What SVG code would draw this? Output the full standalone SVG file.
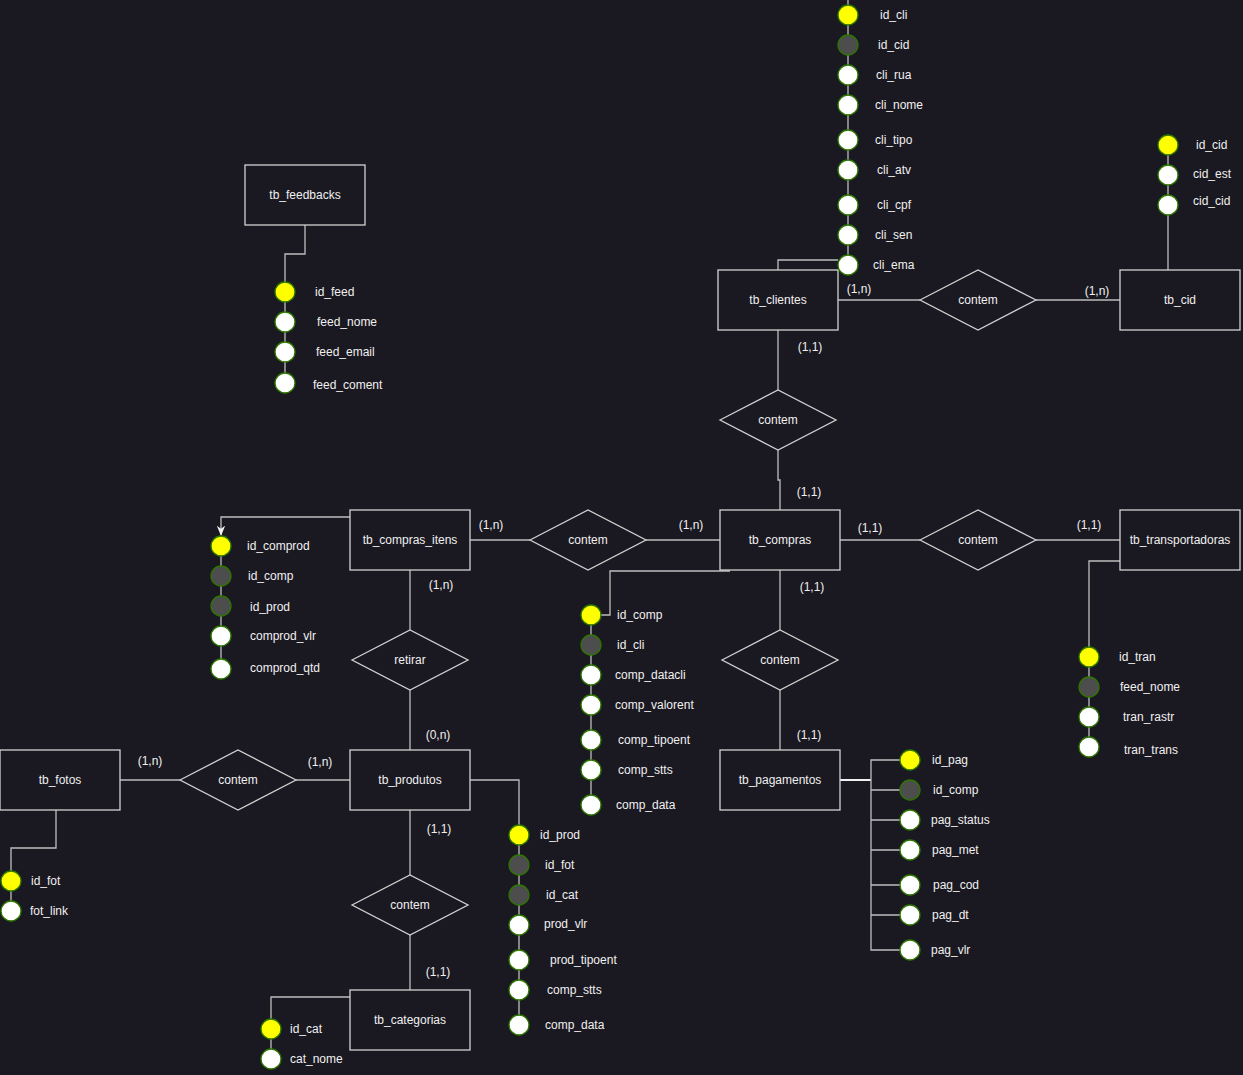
<svg xmlns="http://www.w3.org/2000/svg" width="1243" height="1075" viewBox="0 0 1243 1075">
  <defs>
    <style>
      text { font-family: "Liberation Sans", Arial, sans-serif; font-size: 12px; fill: #f0f0f0; }
      .ent rect { fill: #1a1820; stroke: #d2d2d2; stroke-width: 1.3; }
      .rel polygon { fill: #1a1820; stroke: #d2d2d2; stroke-width: 1.3; }
      .c { text-anchor: middle; dominant-baseline: central; }
      .a { dominant-baseline: central; }
      .ln { fill: none; stroke: #bdbdbd; stroke-width: 1.3; }
      .pk { fill: #ffff00; stroke: #2d7600; stroke-width: 1.3; }
      .fk { fill: #4d4d4d; stroke: #2d7600; stroke-width: 1.3; }
      .at { fill: #ffffff; stroke: #2d7600; stroke-width: 1.3; }
    </style>
    <marker id="arr" viewBox="0 0 10 10" refX="9" refY="5" markerWidth="8" markerHeight="8" orient="auto">
      <path d="M0,1 L10,5 L0,9 L3,5 Z" fill="#f0f0f0"/>
    </marker>
  </defs>

  <rect width="1243" height="1075" fill="#1a1820"/>

  <!-- connectors -->
  <g id="connectors" class="ln">
    <!-- relationships -->
    <path d="M838,300 H920"/>
    <path d="M1036,300 H1120"/>
    <path d="M778,330 V390"/>
    <path d="M778,450 V480 H780 V510"/>
    <path d="M470,540 H530"/>
    <path d="M646,540 H720"/>
    <path d="M840,540 H920"/>
    <path d="M1036,540 H1120"/>
    <path d="M410,570 V630"/>
    <path d="M410,690 V750"/>
    <path d="M780,570 V630"/>
    <path d="M780,690 V750"/>
    <path d="M120,780 H180"/>
    <path d="M296,780 H350"/>
    <path d="M410,810 V875"/>
    <path d="M410,935 V990"/>

    <!-- attribute chains -->
    <path d="M848,0 V265"/>
    <path d="M778,270 V260 H838"/>
    <path d="M1168,145 V270"/>
    <path d="M305,225 V254 H285 V385"/>
    <path d="M350,517 H221 V535" marker-end="url(#arr)"/>
    <path d="M221,546 V669"/>
    <path d="M730,571 H610 V615 H601"/>
    <path d="M591,615 V805"/>
    <path d="M1120,561 H1089 V747"/>
    <path d="M56,810 V848 H11 V911"/>
    <path d="M470,780 H519 V1025"/>
    <path d="M271,1029 V997 H350"/>
    <path d="M271,1029 V1059"/>
    <path d="M840,780 H871" style="stroke:#f0f0f0;stroke-width:2"/>
    <path d="M900,760 H871 V950 H900"/>
    <path d="M871,790 H900 M871,820 H900 M871,850 H900 M871,885 H900 M871,915 H900"/>
  </g>

  <!-- entities -->
  <g id="tb_feedbacks" class="ent"><rect x="245" y="165" width="120" height="60"/><text class="c" x="305" y="195">tb_feedbacks</text></g>
  <g id="tb_clientes" class="ent"><rect x="718" y="270" width="120" height="60"/><text class="c" x="778" y="300">tb_clientes</text></g>
  <g id="tb_cid" class="ent"><rect x="1120" y="270" width="120" height="60"/><text class="c" x="1180" y="300">tb_cid</text></g>
  <g id="tb_compras_itens" class="ent"><rect x="350" y="510" width="120" height="60"/><text class="c" x="410" y="540">tb_compras_itens</text></g>
  <g id="tb_compras" class="ent"><rect x="720" y="510" width="120" height="60"/><text class="c" x="780" y="540">tb_compras</text></g>
  <g id="tb_transportadoras" class="ent"><rect x="1120" y="510" width="120" height="60"/><text class="c" x="1180" y="540">tb_transportadoras</text></g>
  <g id="tb_fotos" class="ent"><rect x="0" y="750" width="120" height="60"/><text class="c" x="60" y="780">tb_fotos</text></g>
  <g id="tb_produtos" class="ent"><rect x="350" y="750" width="120" height="60"/><text class="c" x="410" y="780">tb_produtos</text></g>
  <g id="tb_pagamentos" class="ent"><rect x="720" y="750" width="120" height="60"/><text class="c" x="780" y="780">tb_pagamentos</text></g>
  <g id="tb_categorias" class="ent"><rect x="350" y="990" width="120" height="60"/><text class="c" x="410" y="1020">tb_categorias</text></g>

  <!-- relationships -->
  <g id="rel_clientes_cid" class="rel"><polygon points="920,300 978,270 1036,300 978,330"/><text class="c" x="978" y="300">contem</text></g>
  <g id="rel_clientes_compras" class="rel"><polygon points="720,420 778,390 836,420 778,450"/><text class="c" x="778" y="420">contem</text></g>
  <g id="rel_itens_compras" class="rel"><polygon points="530,540 588,510 646,540 588,570"/><text class="c" x="588" y="540">contem</text></g>
  <g id="rel_compras_transp" class="rel"><polygon points="920,540 978,510 1036,540 978,570"/><text class="c" x="978" y="540">contem</text></g>
  <g id="rel_compras_pag" class="rel"><polygon points="722,660 780,630 838,660 780,690"/><text class="c" x="780" y="660">contem</text></g>
  <g id="rel_retirar" class="rel"><polygon points="352,660 410,630 468,660 410,690"/><text class="c" x="410" y="660">retirar</text></g>
  <g id="rel_fotos_produtos" class="rel"><polygon points="180,780 238,750 296,780 238,810"/><text class="c" x="238" y="780">contem</text></g>
  <g id="rel_produtos_categorias" class="rel"><polygon points="352,905 410,875 468,905 410,935"/><text class="c" x="410" y="905">contem</text></g>

  <!-- cardinalities -->
  <g id="cardinalities">
    <text class="c" x="859" y="289">(1,n)</text>
    <text class="c" x="1097" y="291">(1,n)</text>
    <text class="c" x="810" y="347">(1,1)</text>
    <text class="c" x="809" y="492">(1,1)</text>
    <text class="c" x="491" y="525">(1,n)</text>
    <text class="c" x="691" y="525">(1,n)</text>
    <text class="c" x="870" y="528">(1,1)</text>
    <text class="c" x="1089" y="525">(1,1)</text>
    <text class="c" x="441" y="585">(1,n)</text>
    <text class="c" x="812" y="587">(1,1)</text>
    <text class="c" x="438" y="735">(0,n)</text>
    <text class="c" x="809" y="735">(1,1)</text>
    <text class="c" x="150" y="761">(1,n)</text>
    <text class="c" x="320" y="762">(1,n)</text>
    <text class="c" x="439" y="829">(1,1)</text>
    <text class="c" x="438" y="972">(1,1)</text>
  </g>

  <!-- attributes of tb_clientes -->
  <g id="attr_clientes">
    <circle class="pk" cx="848" cy="15" r="10"/><text class="a" x="880" y="15">id_cli</text>
    <circle class="fk" cx="848" cy="45" r="10"/><text class="a" x="878" y="45">id_cid</text>
    <circle class="at" cx="848" cy="75" r="10"/><text class="a" x="876" y="75">cli_rua</text>
    <circle class="at" cx="848" cy="105" r="10"/><text class="a" x="875" y="105">cli_nome</text>
    <circle class="at" cx="848" cy="140" r="10"/><text class="a" x="875" y="140">cli_tipo</text>
    <circle class="at" cx="848" cy="170" r="10"/><text class="a" x="877" y="170">cli_atv</text>
    <circle class="at" cx="848" cy="205" r="10"/><text class="a" x="877" y="205">cli_cpf</text>
    <circle class="at" cx="848" cy="235" r="10"/><text class="a" x="875" y="235">cli_sen</text>
    <circle class="at" cx="848" cy="265" r="10"/><text class="a" x="873" y="265">cli_ema</text>
  </g>

  <!-- attributes of tb_cid -->
  <g id="attr_cid">
    <circle class="pk" cx="1168" cy="145" r="10"/><text class="a" x="1196" y="145">id_cid</text>
    <circle class="at" cx="1168" cy="175" r="10"/><text class="a" x="1193" y="174">cid_est</text>
    <circle class="at" cx="1168" cy="205" r="10"/><text class="a" x="1193" y="201">cid_cid</text>
  </g>

  <!-- attributes of tb_feedbacks -->
  <g id="attr_feedbacks">
    <circle class="pk" cx="285" cy="292" r="10"/><text class="a" x="315" y="292">id_feed</text>
    <circle class="at" cx="285" cy="322" r="10"/><text class="a" x="317" y="322">feed_nome</text>
    <circle class="at" cx="285" cy="352" r="10"/><text class="a" x="316" y="352">feed_email</text>
    <circle class="at" cx="285" cy="383" r="10"/><text class="a" x="313" y="385">feed_coment</text>
  </g>

  <!-- attributes of tb_compras_itens -->
  <g id="attr_compras_itens">
    <circle class="pk" cx="221" cy="546" r="10"/><text class="a" x="247" y="546">id_comprod</text>
    <circle class="fk" cx="221" cy="576" r="10"/><text class="a" x="248" y="576">id_comp</text>
    <circle class="fk" cx="221" cy="606" r="10"/><text class="a" x="250" y="607">id_prod</text>
    <circle class="at" cx="221" cy="636" r="10"/><text class="a" x="250" y="636">comprod_vlr</text>
    <circle class="at" cx="221" cy="669" r="10"/><text class="a" x="250" y="668">comprod_qtd</text>
  </g>

  <!-- attributes of tb_compras -->
  <g id="attr_compras">
    <circle class="pk" cx="591" cy="615" r="10"/><text class="a" x="617" y="615">id_comp</text>
    <circle class="fk" cx="591" cy="645" r="10"/><text class="a" x="617" y="645">id_cli</text>
    <circle class="at" cx="591" cy="675" r="10"/><text class="a" x="615" y="675">comp_datacli</text>
    <circle class="at" cx="591" cy="705" r="10"/><text class="a" x="615" y="705">comp_valorent</text>
    <circle class="at" cx="591" cy="740" r="10"/><text class="a" x="618" y="740">comp_tipoent</text>
    <circle class="at" cx="591" cy="770" r="10"/><text class="a" x="618" y="770">comp_stts</text>
    <circle class="at" cx="591" cy="805" r="10"/><text class="a" x="616" y="805">comp_data</text>
  </g>

  <!-- attributes of tb_transportadoras -->
  <g id="attr_transportadoras">
    <circle class="pk" cx="1089" cy="657" r="10"/><text class="a" x="1119" y="657">id_tran</text>
    <circle class="fk" cx="1089" cy="687" r="10"/><text class="a" x="1120" y="687">feed_nome</text>
    <circle class="at" cx="1089" cy="717" r="10"/><text class="a" x="1123" y="717">tran_rastr</text>
    <circle class="at" cx="1089" cy="747" r="10"/><text class="a" x="1124" y="750">tran_trans</text>
  </g>

  <!-- attributes of tb_fotos -->
  <g id="attr_fotos">
    <circle class="pk" cx="11" cy="881" r="10"/><text class="a" x="31" y="881">id_fot</text>
    <circle class="at" cx="11" cy="911" r="10"/><text class="a" x="30" y="911">fot_link</text>
  </g>

  <!-- attributes of tb_produtos -->
  <g id="attr_produtos">
    <circle class="pk" cx="519" cy="835" r="10"/><text class="a" x="540" y="835">id_prod</text>
    <circle class="fk" cx="519" cy="865" r="10"/><text class="a" x="545" y="865">id_fot</text>
    <circle class="fk" cx="519" cy="895" r="10"/><text class="a" x="546" y="895">id_cat</text>
    <circle class="at" cx="519" cy="925" r="10"/><text class="a" x="544" y="924">prod_vlr</text>
    <circle class="at" cx="519" cy="960" r="10"/><text class="a" x="550" y="960">prod_tipoent</text>
    <circle class="at" cx="519" cy="990" r="10"/><text class="a" x="547" y="990">comp_stts</text>
    <circle class="at" cx="519" cy="1025" r="10"/><text class="a" x="545" y="1025">comp_data</text>
  </g>

  <!-- attributes of tb_pagamentos -->
  <g id="attr_pagamentos">
    <circle class="pk" cx="910" cy="760" r="10"/><text class="a" x="932" y="760">id_pag</text>
    <circle class="fk" cx="910" cy="790" r="10"/><text class="a" x="933" y="790">id_comp</text>
    <circle class="at" cx="910" cy="820" r="10"/><text class="a" x="931" y="820">pag_status</text>
    <circle class="at" cx="910" cy="850" r="10"/><text class="a" x="932" y="850">pag_met</text>
    <circle class="at" cx="910" cy="885" r="10"/><text class="a" x="933" y="885">pag_cod</text>
    <circle class="at" cx="910" cy="915" r="10"/><text class="a" x="932" y="915">pag_dt</text>
    <circle class="at" cx="910" cy="950" r="10"/><text class="a" x="931" y="950">pag_vlr</text>
  </g>

  <!-- attributes of tb_categorias -->
  <g id="attr_categorias">
    <circle class="pk" cx="271" cy="1029" r="10"/><text class="a" x="290" y="1029">id_cat</text>
    <circle class="at" cx="271" cy="1059" r="10"/><text class="a" x="290" y="1059">cat_nome</text>
  </g>
</svg>
